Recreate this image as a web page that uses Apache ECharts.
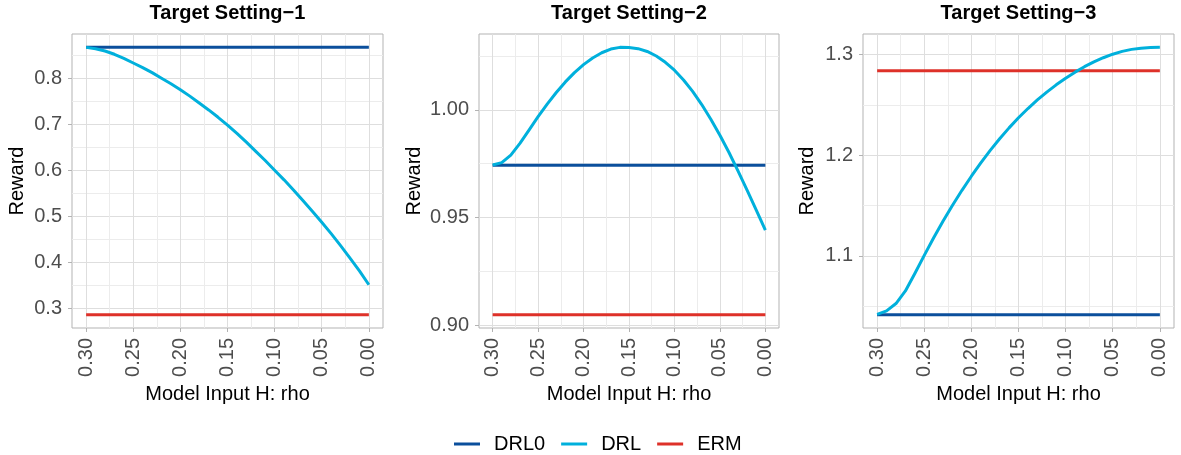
<!DOCTYPE html>
<html>
<head>
<meta charset="utf-8">
<script src="https://cdn.jsdelivr.net/npm/echarts@6/dist/echarts.min.js"></script>
<style>html,body{margin:0;padding:0;background:#fff}#c{width:1181px;height:455px}</style>
</head>
<body>
<div id="c"></div>
<script>
// ---------- data ----------
const rho = [0.30,0.29,0.28,0.27,0.26,0.25,0.24,0.23,0.22,0.21,0.20,0.19,0.18,0.17,0.16,0.15,
             0.14,0.13,0.12,0.11,0.10,0.09,0.08,0.07,0.06,0.05,0.04,0.03,0.02,0.01,0.00];
const panelTitles = ['Target Setting\u22121','Target Setting\u22122','Target Setting\u22123'];
const seriesNames = ['DRL0','DRL','ERM'];
const drl0Values = [0.867, 0.9743, 1.0417];
const ermValues  = [0.286, 0.9051, 1.2838];
const drlPanel1 = [0.867,0.864,0.859,0.852,0.843,0.833,0.823,0.812,0.800,0.788,0.775,0.761,0.746,0.731,0.715,0.698,
                   0.680,0.661,0.641,0.621,0.600,0.579,0.557,0.534,0.511,0.487,0.462,0.436,0.409,0.381,0.351];
const drlPanel2 = [0.9744,0.9755,0.9790,0.9844,0.9906,0.9968,1.0026,1.0080,1.0129,1.0172,1.0209,1.0240,1.0264,1.0281,1.0289,1.0288,
                   1.0283,1.0270,1.0249,1.0220,1.0183,1.0138,1.0085,1.0024,0.9956,0.9882,0.9802,0.9716,0.9627,0.9535,0.9442];
const drlPanel3 = [1.0420,1.0454,1.0527,1.0652,1.0825,1.1005,1.1180,1.1346,1.1503,1.1651,1.1791,1.1923,1.2047,1.2163,1.2271,1.2371,
                   1.2463,1.2548,1.2626,1.2698,1.2764,1.2824,1.2878,1.2926,1.2967,1.3002,1.3030,1.3050,1.3062,1.3068,1.3070];
const xMajorTicks = [0, 0.05, 0.10, 0.15, 0.20, 0.25, 0.30];
const xMinorTicks = [0.025, 0.075, 0.125, 0.175, 0.225, 0.275];
const yMajorTicks1 = [0.3, 0.4, 0.5, 0.6, 0.7, 0.8];
const yMinorTicks1 = [0.25, 0.35, 0.45, 0.55, 0.65, 0.75, 0.85];
const yMajorTicks2 = [0.90, 0.95, 1.00];
const yMinorTicks2 = [0.925, 0.975, 1.025];
const yMajorTicks3 = [1.1, 1.2, 1.3];
const yMinorTicks3 = [1.05, 1.15, 1.25];
const yDecimals = [1, 2, 1];
const xLabelText = 'Model Input H: rho';
const yLabelText = 'Reward';

// ---------- style / layout ----------
const FONT = 'Liberation Sans, Arial, sans-serif';
const COLORS = {DRL0: '#0B4F9C', DRL: '#00B0DC', ERM: '#DE3129'};
const drlByPanel = [drlPanel1, drlPanel2, drlPanel3];
const yMajors = [yMajorTicks1, yMajorTicks2, yMajorTicks3];
const yMinors = [yMinorTicks1, yMinorTicks2, yMinorTicks3];
const gridBoxes = [{left: 72, width: 311}, {left: 479, width: 300}, {left: 863, width: 311}];
const gridTop = 34, gridHeight = 294;
const yNameGaps = [45, 55, 46];
const MAJOR_GRID = '#dedede', MINOR_GRID = '#ececec', BORDER = '#b3b3b3';

function expand(vals) {
  const mn = Math.min.apply(null, vals), mx = Math.max.apply(null, vals);
  const p = (mx - mn) * 0.05;
  return [mn - p, mx + p];
}
const xRange = expand(rho);

const grid = [], xAxis = [], yAxis = [], series = [], graphic = [];
for (let i = 0; i < 3; i++) {
  const g = gridBoxes[i];
  grid.push({left: g.left, top: gridTop, width: g.width, height: gridHeight,
             show: true, borderColor: BORDER, borderWidth: 1, backgroundColor: 'transparent'});
  graphic.push({type: 'text', x: g.left + g.width / 2, y: 3, silent: true,
    style: {text: panelTitles[i], align: 'center', textAlign: 'center', verticalAlign: 'top', textVerticalAlign: 'top',
            fontFamily: FONT, fontSize: 20, fontWeight: 'bold', fill: '#000'}});
  const yr = expand([drl0Values[i], ermValues[i]].concat(drlByPanel[i]));
  // minor grid axes (no ticks, no labels)
  xAxis.push({type: 'value', gridIndex: i, position: 'bottom', inverse: true, min: xRange[0], max: xRange[1],
    axisLine: {show: false, onZero: false}, axisLabel: {show: false},
    axisTick: {show: false, customValues: xMinorTicks},
    splitLine: {show: true, lineStyle: {color: MINOR_GRID, width: 1}}});
  // main x axis: labels, ticks, major grid
  xAxis.push({type: 'value', gridIndex: i, position: 'bottom', inverse: true, min: xRange[0], max: xRange[1],
    axisLine: {show: false, onZero: false},
    axisTick: {show: true, length: 4, lineStyle: {color: BORDER, width: 1}, customValues: xMajorTicks},
    axisLabel: {customValues: xMajorTicks, rotate: 90, margin: 10, fontFamily: FONT, fontSize: 20, color: '#4d4d4d',
                formatter: v => Number(v).toFixed(2)},
    splitLine: {show: true, lineStyle: {color: MAJOR_GRID, width: 1}},
    name: xLabelText, nameLocation: 'middle', nameGap: 52,
    nameTextStyle: {fontFamily: FONT, fontSize: 20, color: '#000'}});
  yAxis.push({type: 'value', gridIndex: i, position: 'left', min: yr[0], max: yr[1],
    axisLine: {show: false, onZero: false}, axisLabel: {show: false},
    axisTick: {show: false, customValues: yMinors[i]},
    splitLine: {show: true, lineStyle: {color: MINOR_GRID, width: 1}}});
  yAxis.push({type: 'value', gridIndex: i, position: 'left', min: yr[0], max: yr[1],
    axisLine: {show: false, onZero: false},
    axisTick: {show: true, length: 4, lineStyle: {color: BORDER, width: 1}, customValues: yMajors[i]},
    axisLabel: {customValues: yMajors[i], margin: 10, fontFamily: FONT, fontSize: 20, color: '#4d4d4d',
                formatter: v => Number(v).toFixed(yDecimals[i])},
    splitLine: {show: true, lineStyle: {color: MAJOR_GRID, width: 1}},
    name: yLabelText, nameLocation: 'middle', nameGap: yNameGaps[i],
    nameTextStyle: {fontFamily: FONT, fontSize: 20, color: '#000'}});

  const xi = i * 2 + 1, yi = i * 2 + 1;
  const lineBase = {type: 'line', xAxisIndex: xi, yAxisIndex: yi, symbol: 'none', smooth: false, silent: true,
                    animation: false};
  series.push(Object.assign({}, lineBase, {name: 'DRL0', z: 3,
    data: [[rho[0], drl0Values[i]], [rho[rho.length - 1], drl0Values[i]]],
    lineStyle: {color: COLORS.DRL0, width: 3, cap: 'butt', join: 'round'}, itemStyle: {color: COLORS.DRL0}}));
  series.push(Object.assign({}, lineBase, {name: 'ERM', z: 4,
    data: [[rho[0], ermValues[i]], [rho[rho.length - 1], ermValues[i]]],
    lineStyle: {color: COLORS.ERM, width: 3, cap: 'butt', join: 'round'}, itemStyle: {color: COLORS.ERM}}));
  series.push(Object.assign({}, lineBase, {name: 'DRL', z: 5,
    data: rho.map((r, k) => [r, drlByPanel[i][k]]),
    lineStyle: {color: COLORS.DRL, width: 3, cap: 'butt', join: 'round'}, itemStyle: {color: COLORS.DRL}}));
}

const chart = echarts.init(document.getElementById('c'), null, {renderer: 'canvas'});
chart.setOption({
  animation: false,
  backgroundColor: '#fff',
  grid, xAxis, yAxis, series, graphic,
  legend: {data: seriesNames, left: 449, top: 429, itemWidth: 26, itemHeight: 14, itemGap: 16,
           icon: 'path://M0,6 L26,6 L26,9 L0,9 Z',
           textStyle: {fontFamily: FONT, fontSize: 20, color: '#000', padding: [0, 0, 0, 9]}}
});
</script>
</body>
</html>
